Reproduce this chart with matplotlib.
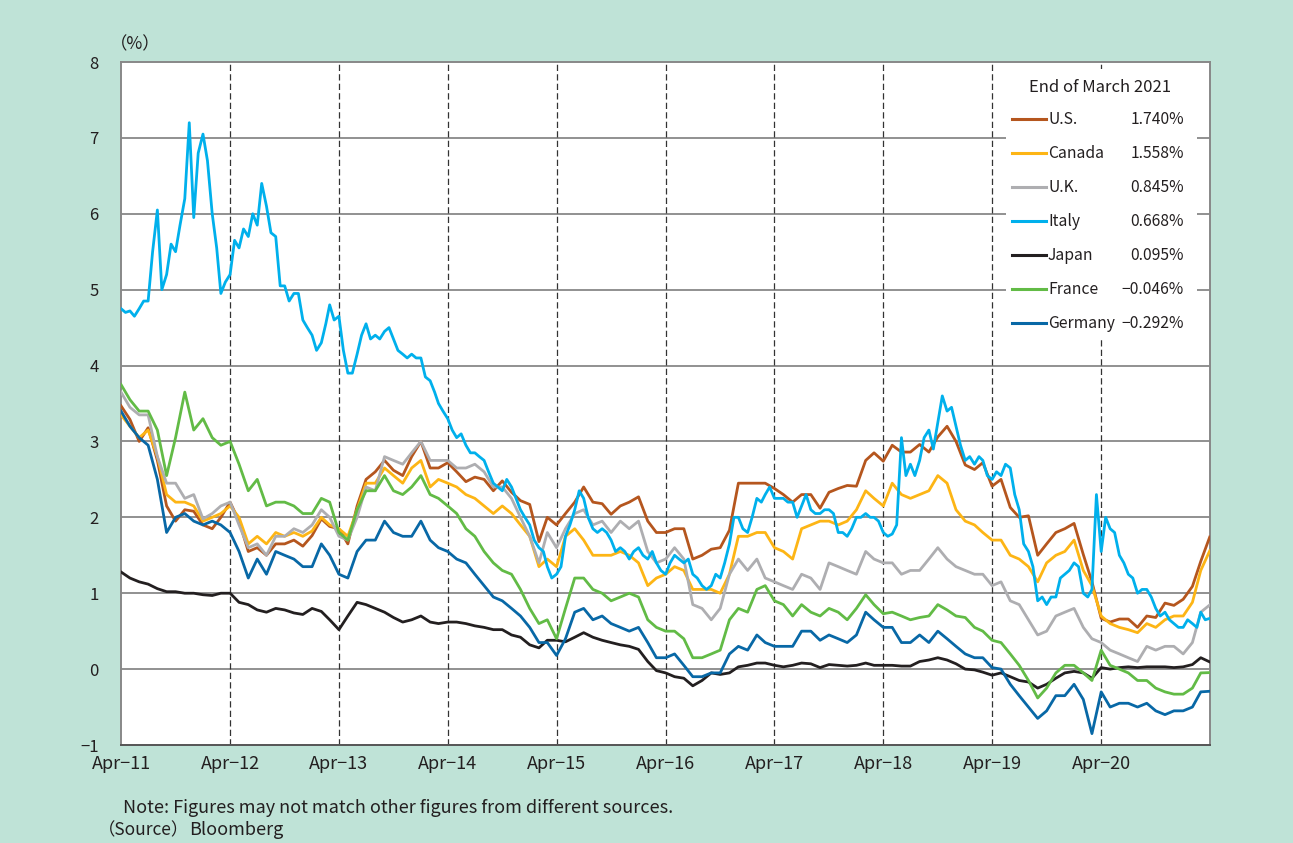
import matplotlib
matplotlib.use("Agg")
import matplotlib.pyplot as plt
from matplotlib.lines import Line2D
from matplotlib.patches import Rectangle
import pandas as pd

plt.rcParams['font.family'] = ['Noto Sans CJK JP', 'DejaVu Sans']

# ---------------- data (10-year government bond yields, %) ----------------
# monthly values at the start of each month Apr-2011 .. Mar-2021, plus end of March 2021
us = [3.47, 3.29, 3.00, 3.18, 2.75, 2.15, 1.95, 2.10, 2.08,
      1.90, 1.85, 2.00, 2.20, 1.95, 1.55, 1.60, 1.50, 1.65, 1.65, 1.70, 1.62,
      1.76, 1.98, 1.88, 1.85, 1.65, 2.15, 2.50, 2.60, 2.75, 2.62, 2.55, 2.80,
      3.00, 2.65, 2.65, 2.72, 2.60, 2.47, 2.53, 2.50, 2.35, 2.48, 2.33, 2.22,
      2.17, 1.68, 2.00, 1.90, 2.05, 2.20, 2.40, 2.20, 2.18, 2.04, 2.15, 2.20,
      2.27, 1.95, 1.80, 1.80, 1.85, 1.85, 1.45, 1.50, 1.58, 1.60, 1.83, 2.45,
      2.45, 2.45, 2.45, 2.38, 2.30, 2.20, 2.30, 2.30, 2.12, 2.33, 2.38, 2.42,
      2.41, 2.75, 2.85, 2.74, 2.95, 2.86, 2.86, 2.96, 2.86, 3.06, 3.20, 3.00,
      2.69, 2.63, 2.72, 2.41, 2.50, 2.13, 2.00, 2.02, 1.50, 1.65, 1.80, 1.85,
      1.92, 1.51, 1.15, 0.67, 0.62, 0.66, 0.66, 0.55, 0.70, 0.68, 0.87, 0.84,
      0.92, 1.09, 1.42, 1.740]
canada = [3.35, 3.20, 3.05, 3.15, 2.80, 2.30, 2.20, 2.20, 2.15,
          1.95, 2.00, 2.05, 2.15, 2.00, 1.65, 1.75, 1.65, 1.80, 1.75, 1.80, 1.75,
          1.82, 2.00, 1.90, 1.85, 1.75, 2.10, 2.45, 2.45, 2.65, 2.55, 2.45, 2.65,
          2.75, 2.40, 2.50, 2.45, 2.40, 2.30, 2.25, 2.15, 2.05, 2.15, 2.05, 1.90,
          1.75, 1.35, 1.45, 1.35, 1.75, 1.85, 1.70, 1.50, 1.50, 1.50, 1.55, 1.50,
          1.40, 1.10, 1.20, 1.25, 1.35, 1.30, 1.05, 1.05, 1.05, 1.00, 1.25, 1.75,
          1.75, 1.80, 1.80, 1.60, 1.55, 1.45, 1.85, 1.90, 1.95, 1.95, 1.90, 1.95,
          2.10, 2.35, 2.25, 2.15, 2.45, 2.30, 2.25, 2.30, 2.35, 2.55, 2.45, 2.10,
          1.95, 1.90, 1.80, 1.70, 1.70, 1.50, 1.45, 1.35, 1.15, 1.40, 1.50, 1.55,
          1.70, 1.30, 1.10, 0.70, 0.60, 0.55, 0.52, 0.48, 0.60, 0.55, 0.65, 0.70,
          0.70, 0.88, 1.30, 1.558]
uk = [3.65, 3.45, 3.35, 3.35, 2.80, 2.45, 2.45, 2.25, 2.30,
      1.98, 2.05, 2.15, 2.20, 1.90, 1.60, 1.65, 1.50, 1.75, 1.75, 1.85, 1.80,
      1.90, 2.10, 2.00, 1.75, 1.70, 2.00, 2.40, 2.35, 2.80, 2.75, 2.70, 2.85,
      3.00, 2.75, 2.75, 2.75, 2.65, 2.65, 2.70, 2.60, 2.40, 2.40, 2.25, 2.00,
      1.75, 1.40, 1.80, 1.60, 1.85, 2.05, 2.10, 1.90, 1.95, 1.80, 1.95, 1.85,
      1.95, 1.55, 1.40, 1.45, 1.60, 1.45, 0.85, 0.80, 0.65, 0.80, 1.25, 1.45,
      1.30, 1.45, 1.20, 1.15, 1.10, 1.05, 1.25, 1.20, 1.05, 1.40, 1.35, 1.30,
      1.25, 1.55, 1.45, 1.40, 1.40, 1.25, 1.30, 1.30, 1.45, 1.60, 1.45, 1.35,
      1.30, 1.25, 1.25, 1.10, 1.15, 0.90, 0.85, 0.65, 0.45, 0.50, 0.70, 0.75,
      0.80, 0.55, 0.40, 0.35, 0.25, 0.20, 0.15, 0.10, 0.30, 0.25, 0.30, 0.30,
      0.20, 0.35, 0.75, 0.845]
japan = [1.28, 1.20, 1.15, 1.12, 1.06, 1.02, 1.02, 1.00, 1.00,
         0.98, 0.97, 1.00, 1.00, 0.88, 0.85, 0.78, 0.75, 0.80, 0.78, 0.74, 0.72,
         0.80, 0.76, 0.65, 0.52, 0.70, 0.88, 0.85, 0.80, 0.75, 0.68, 0.62, 0.65,
         0.70, 0.62, 0.60, 0.62, 0.62, 0.60, 0.57, 0.55, 0.52, 0.52, 0.45, 0.42,
         0.32, 0.28, 0.38, 0.38, 0.36, 0.42, 0.48, 0.42, 0.38, 0.35, 0.32, 0.30,
         0.26, 0.10, -0.02, -0.05, -0.10, -0.12, -0.22, -0.15, -0.05, -0.07, -0.05, 0.03,
         0.05, 0.08, 0.08, 0.05, 0.03, 0.05, 0.08, 0.07, 0.02, 0.06, 0.05, 0.04,
         0.05, 0.08, 0.05, 0.05, 0.05, 0.04, 0.04, 0.10, 0.12, 0.15, 0.12, 0.07,
         0.00, -0.01, -0.04, -0.08, -0.05, -0.10, -0.15, -0.17, -0.25, -0.20, -0.12, -0.05,
         -0.03, -0.05, -0.12, 0.02, 0.00, 0.02, 0.03, 0.02, 0.03, 0.03, 0.03, 0.02,
         0.03, 0.06, 0.15, 0.095]
france = [3.75, 3.55, 3.40, 3.40, 3.15, 2.55, 3.05, 3.65, 3.15,
          3.30, 3.05, 2.95, 3.00, 2.70, 2.35, 2.50, 2.15, 2.20, 2.20, 2.15, 2.05,
          2.05, 2.25, 2.20, 1.80, 1.70, 2.10, 2.35, 2.35, 2.55, 2.35, 2.30, 2.40,
          2.55, 2.30, 2.25, 2.15, 2.05, 1.85, 1.75, 1.55, 1.40, 1.30, 1.25, 1.05,
          0.80, 0.60, 0.65, 0.40, 0.80, 1.20, 1.20, 1.05, 1.00, 0.90, 0.95, 1.00,
          0.95, 0.65, 0.55, 0.50, 0.50, 0.40, 0.15, 0.15, 0.20, 0.25, 0.65, 0.80,
          0.75, 1.05, 1.10, 0.90, 0.85, 0.70, 0.85, 0.75, 0.70, 0.80, 0.75, 0.65,
          0.80, 0.98, 0.85, 0.73, 0.75, 0.70, 0.65, 0.68, 0.70, 0.85, 0.78, 0.70,
          0.68, 0.55, 0.50, 0.38, 0.35, 0.20, 0.05, -0.15, -0.38, -0.25, -0.05, 0.05,
          0.05, -0.05, -0.15, 0.25, 0.05, 0.00, -0.05, -0.15, -0.15, -0.25, -0.30, -0.33,
          -0.33, -0.25, -0.05, -0.046]
germany = [3.40, 3.20, 3.05, 2.95, 2.50, 1.80, 2.00, 2.05, 1.95,
           1.90, 1.95, 1.90, 1.80, 1.55, 1.20, 1.45, 1.25, 1.55, 1.50, 1.45, 1.35,
           1.35, 1.65, 1.50, 1.25, 1.20, 1.55, 1.70, 1.70, 1.95, 1.80, 1.75, 1.75,
           1.95, 1.70, 1.60, 1.55, 1.45, 1.40, 1.25, 1.10, 0.95, 0.90, 0.80, 0.70,
           0.55, 0.35, 0.35, 0.18, 0.40, 0.75, 0.80, 0.65, 0.70, 0.60, 0.55, 0.50,
           0.55, 0.35, 0.15, 0.15, 0.20, 0.05, -0.10, -0.10, -0.05, -0.05, 0.20, 0.30,
           0.25, 0.45, 0.35, 0.30, 0.30, 0.30, 0.50, 0.50, 0.38, 0.45, 0.40, 0.35,
           0.45, 0.75, 0.65, 0.55, 0.55, 0.35, 0.35, 0.45, 0.35, 0.50, 0.40, 0.30,
           0.20, 0.15, 0.15, 0.02, 0.00, -0.20, -0.35, -0.50, -0.65, -0.55, -0.35, -0.35,
           -0.20, -0.40, -0.85, -0.30, -0.50, -0.45, -0.45, -0.50, -0.45, -0.55, -0.60, -0.55,
           -0.55, -0.50, -0.30, -0.292]
# Italy: twice a month (1st and 16th) Apr-2011 .. Mar-2021, plus end of March 2021
italy = [4.75, 4.70, 4.72, 4.65, 4.75, 4.85, 4.85, 5.50, 6.05, 5.00, 5.20, 5.60,
         5.50, 5.85, 6.20, 7.20, 5.95, 6.80,
         7.05, 6.70, 6.00, 5.55, 4.95, 5.10, 5.20, 5.65, 5.55, 5.80, 5.70, 6.00,
         5.85, 6.40, 6.10, 5.75, 5.70, 5.05, 5.05, 4.85, 4.95, 4.95, 4.60, 4.50,
         4.40, 4.20, 4.30, 4.55, 4.80, 4.60, 4.65, 4.20, 3.90, 3.90, 4.15, 4.40,
         4.55, 4.35, 4.40, 4.35, 4.45, 4.50, 4.35, 4.20, 4.15, 4.10, 4.15, 4.10,
         4.10, 3.85, 3.80, 3.65, 3.50, 3.40, 3.30, 3.15, 3.05, 3.10, 2.95, 2.85,
         2.85, 2.80, 2.75, 2.60, 2.45, 2.40, 2.35, 2.50, 2.40, 2.25, 2.10, 2.00,
         1.90, 1.70, 1.60, 1.55, 1.35, 1.20, 1.25, 1.35, 1.75, 1.90, 2.10, 2.35,
         2.25, 2.00, 1.85, 1.80, 1.85, 1.80, 1.70, 1.55, 1.60, 1.55, 1.45, 1.55,
         1.60, 1.50, 1.45, 1.55, 1.40, 1.30, 1.25, 1.40, 1.50, 1.45, 1.40, 1.45,
         1.25, 1.20, 1.10, 1.05, 1.10, 1.25, 1.20, 1.40, 1.65, 2.00, 2.00, 1.85,
         1.80, 2.00, 2.25, 2.20, 2.30, 2.40, 2.25, 2.25, 2.25, 2.20, 2.20, 2.00,
         2.15, 2.30, 2.10, 2.05, 2.05, 2.10, 2.10, 2.05, 1.80, 1.80, 1.75, 1.85,
         2.00, 2.00, 2.05, 2.00, 2.00, 1.95, 1.80, 1.75, 1.78, 1.90, 3.05, 2.55,
         2.70, 2.55, 2.75, 3.05, 3.15, 2.90, 3.25, 3.60, 3.40, 3.45, 3.20, 2.95,
         2.75, 2.80, 2.70, 2.80, 2.75, 2.55, 2.50, 2.60, 2.55, 2.70, 2.65, 2.30,
         2.10, 1.65, 1.55, 1.35, 0.90, 0.95, 0.85, 0.95, 0.95, 1.20, 1.25, 1.30,
         1.40, 1.35, 1.00, 0.95, 1.05, 2.30, 1.55, 2.00, 1.85, 1.80, 1.50, 1.40,
         1.25, 1.20, 1.00, 1.05, 1.05, 0.95, 0.80, 0.70, 0.75, 0.65, 0.60, 0.55,
         0.55, 0.65, 0.60, 0.55, 0.75, 0.65, 0.668]

names = ["U.S.", "Canada", "U.K.", "Italy", "Japan", "France", "Germany"]
colors = ["#B5561E", "#FDB515", "#AEAEB1", "#00B0EC", "#231F20", "#62BB46", "#0868A6"]
tick_labels = ["Apr\u221211", "Apr\u221212", "Apr\u221213", "Apr\u221214", "Apr\u221215",
               "Apr\u221216", "Apr\u221217", "Apr\u221218", "Apr\u221219", "Apr\u221220"]
y_ticks = [-1, 0, 1, 2, 3, 4, 5, 6, 7, 8]

# ---------------- dates ----------------
end_date = pd.Timestamp("2021-03-31")
dates_m = list(pd.date_range("2011-04-01", periods=120, freq="MS")) + [end_date]
dates_h = []
for d in pd.date_range("2011-04-01", periods=120, freq="MS"):
    dates_h += [d, d + pd.Timedelta(days=15)]
dates_h.append(end_date)

series = [(us, dates_m), (canada, dates_m), (uk, dates_m), (italy, dates_h),
          (japan, dates_m), (france, dates_m), (germany, dates_m)]

# ---------------- figure ----------------
W, H = 1293, 843
bg = "#BFE3D7"
txt = "#231F20"
fig = plt.figure(figsize=(W / 100, H / 100), dpi=100, facecolor=bg)
ax = fig.add_axes([121 / W, 1 - 745 / H, (1210 - 121) / W, (745 - 62) / H])
ax.set_facecolor("white")

for (vals, dts), c in zip(series, colors):
    ax.plot(dts, vals, color=c, lw=2.0, zorder=3, solid_joinstyle="round")

ax.set_xlim(pd.Timestamp("2011-04-01"), pd.Timestamp("2021-04-01"))
ax.set_ylim(-1, 8)
ax.set_yticks(y_ticks)
ax.set_yticklabels([str(v).replace("-", "\u2212") for v in y_ticks], fontsize=12)
xt = [pd.Timestamp(f"{y}-04-01") for y in range(2011, 2021)]
ax.set_xticks(xt)
ax.set_xticklabels(tick_labels, fontsize=13)
ax.tick_params(axis="both", length=0, colors=txt)
ax.tick_params(axis="y", pad=16)
ax.tick_params(axis="x", pad=7)

for v in y_ticks[1:-1]:
    ax.axhline(v, color="#888888", lw=1.3, zorder=1)
for d in xt[1:]:
    ax.axvline(d, color="#333333", lw=0.9, dashes=(5, 2.6), zorder=1)

for s in ["left", "top", "right"]:
    ax.spines[s].set_color("#888888")
    ax.spines[s].set_linewidth(1.4)
ax.spines["bottom"].set_color("#555555")
ax.spines["bottom"].set_linewidth(1.4)

# ---------------- legend box ----------------
def fx(px):
    return px / W

def fy(py):
    return 1 - py / H

ax.add_patch(Rectangle((fx(1006), fy(340)), fx(1197) - fx(1006), fy(69) - fy(340),
                       transform=fig.transFigure, facecolor="white", edgecolor="none",
                       zorder=10, clip_on=False))
fig.text(fx(1100), fy(88), "End of March 2021", ha="center", va="center", fontsize=12,
         color=txt, zorder=11)
for i, ((vals, _), n, c) in enumerate(zip(series, names, colors)):
    yy = fy(119 + i * 34.0)
    ax.add_line(Line2D([fx(1012), fx(1046)], [yy, yy], transform=fig.transFigure,
                       color=c, lw=2.2, zorder=11, clip_on=False))
    fig.text(fx(1048), yy, n, ha="left", va="center", fontsize=11.3, color=txt, zorder=11)
    fig.text(fx(1184), yy, f"{vals[-1]:.3f}%".replace("-", "\u2212"), ha="right",
             va="center", fontsize=11.3, color=txt, zorder=11)

# ---------------- texts ----------------
fig.text(fx(110), fy(44), "（%）", ha="left", va="center", fontsize=12.5, color=txt)
fig.text(fx(123), fy(808), "Note: Figures may not match other figures from different sources.",
         ha="left", va="center", fontsize=13, color=txt)
fig.text(fx(98), fy(830), "（Source）", ha="left", va="center", fontsize=12.5, color=txt)
fig.text(fx(189), fy(830), "Bloomberg", ha="left", va="center", fontsize=13, color=txt)

fig.savefig("out.png", dpi=100, facecolor=bg)
